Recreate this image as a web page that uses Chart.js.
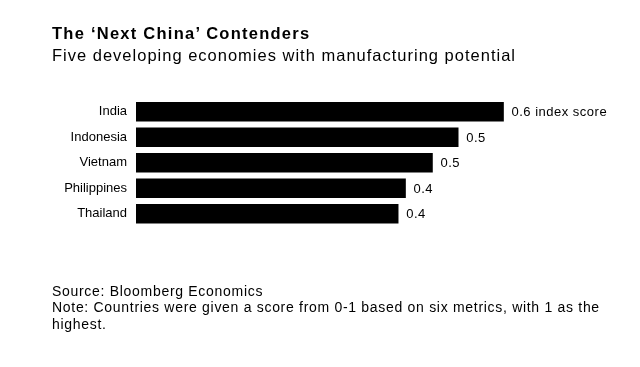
<!DOCTYPE html>
<html><head><meta charset="utf-8">
<script src="https://cdn.jsdelivr.net/npm/chart.js@4.4.0/dist/chart.umd.min.js"></script>
<style>
html,body{margin:0;padding:0;background:#fff;}
body{width:640px;height:367px;position:relative;overflow:hidden;font-family:"Liberation Sans",Arial,Helvetica,sans-serif;color:#000;}
canvas{position:absolute;left:0;top:0;}
.t{position:absolute;left:52px;white-space:nowrap;}
#title{top:25px;font-size:16.5px;line-height:16.5px;font-weight:bold;letter-spacing:1.25px;}
#sub{top:46.7px;font-size:16.5px;line-height:16.5px;letter-spacing:1px;}
#notes{top:282.6px;font-size:14px;line-height:16.5px;width:565px;white-space:normal;letter-spacing:0.7px;}
</style>
</head>
<body>
<canvas id="c" width="640" height="367"></canvas>
<div class="t" id="title">The ‘Next China’ Contenders</div>
<div class="t" id="sub">Five developing economies with manufacturing potential</div>
<div class="t" id="notes">Source: Bloomberg Economics<br>Note: Countries were given a score from 0-1 based on six metrics, with 1 as the highest.</div>
<script>
const countries = ['India', 'Indonesia', 'Vietnam', 'Philippines', 'Thailand'];
const scores = [0.60, 0.526, 0.484, 0.44, 0.428];
const firstLabelSuffix = ' index score';

const FONT = '"Liberation Sans", Arial, Helvetica, sans-serif';

const valueLabels = {
  id: 'valueLabels',
  afterDatasetsDraw(chart) {
    const ctx = chart.ctx;
    const meta = chart.getDatasetMeta(0);
    ctx.save();
    ctx.font = '13px ' + FONT;
    if ('letterSpacing' in ctx) ctx.letterSpacing = '0.5px';
    ctx.fillStyle = '#000';
    ctx.textAlign = 'left';
    ctx.textBaseline = 'middle';
    meta.data.forEach((bar, i) => {
      const v = chart.data.datasets[0].data[i];
      const txt = v.toFixed(1) + (i === 0 ? firstLabelSuffix : '');
      ctx.fillText(txt, bar.x + 8, bar.y + 1);
    });
    ctx.restore();
  }
};

new Chart(document.getElementById('c'), {
  type: 'bar',
  data: {
    labels: countries,
    datasets: [{
      data: scores,
      backgroundColor: '#000',
      borderWidth: 0,
      barThickness: 19
    }]
  },
  options: {
    indexAxis: 'y',
    responsive: false,
    animation: false,
    layout: { padding: { top: 99, bottom: 140.5, left: 0, right: 14 } },
    scales: {
      x: { display: false, min: 0, max: 0.8 },
      y: {
        grid: { display: false, drawTicks: false },
        border: { display: false },
        ticks: { padding: 9, color: '#000', font: { size: 13, family: FONT } },
        afterFit(s) { s.width = 136; }
      }
    },
    plugins: { legend: { display: false }, tooltip: { enabled: false } }
  },
  plugins: [valueLabels]
});
</script>
</body></html>
